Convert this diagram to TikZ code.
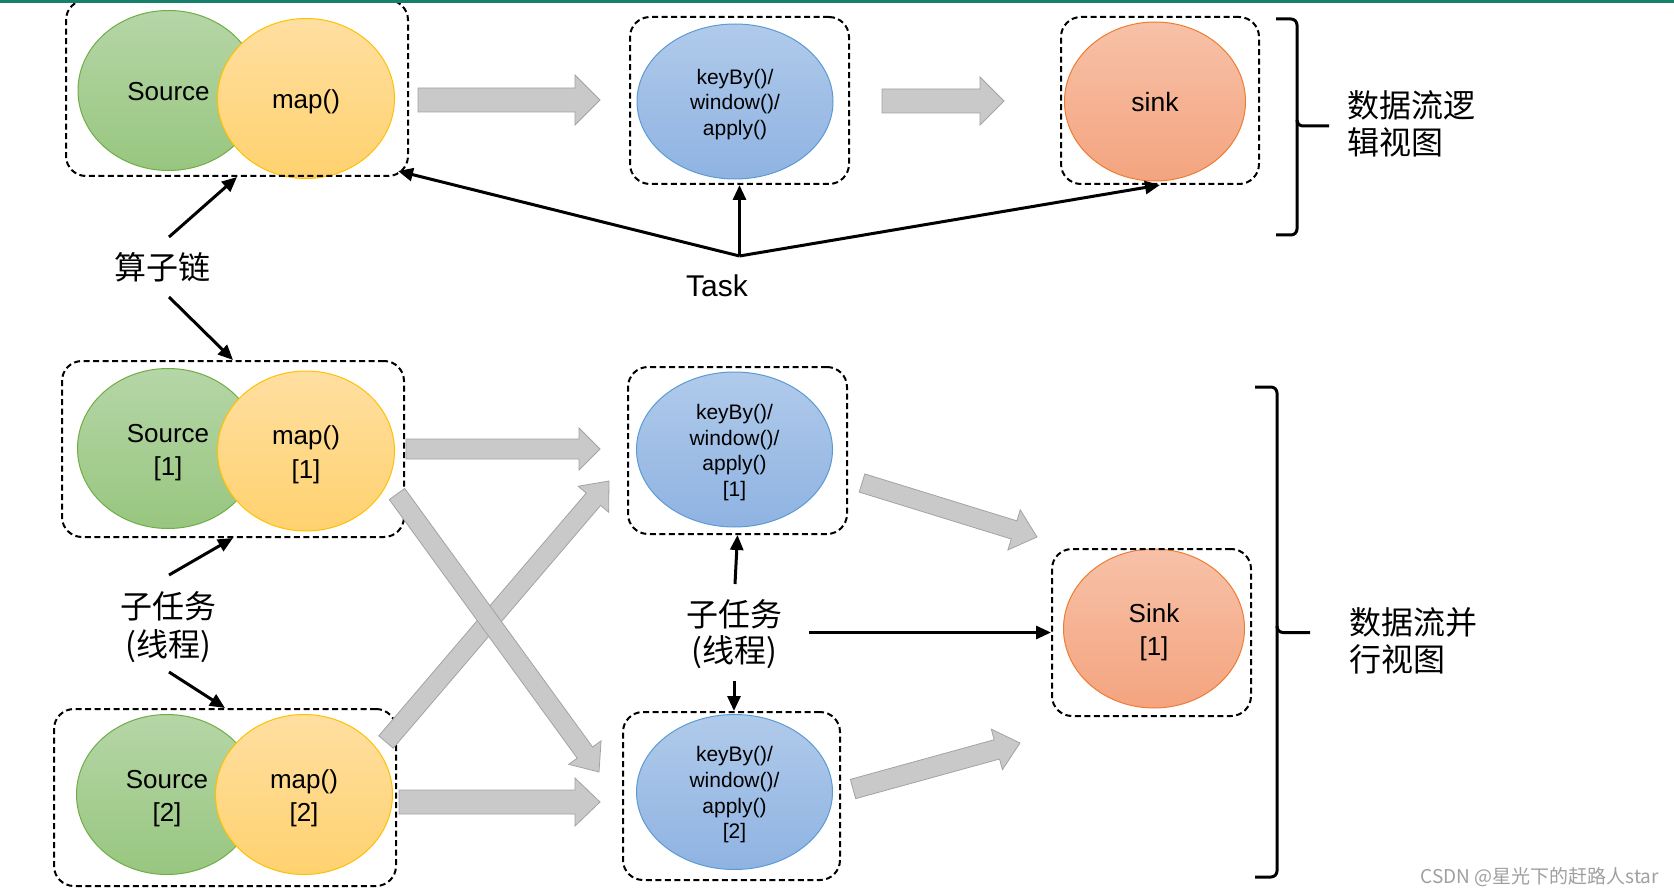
\documentclass[tikz,border=0pt]{standalone}
\usepackage{fontspec}
\setmainfont{Liberation Sans}
\newfontfamily\cjk{Noto Sans CJK SC}
\usetikzlibrary{calc,arrows.meta,shapes.geometric}
\definecolor{teal1}{HTML}{17806A}
\definecolor{gtop}{HTML}{B5D6A7}
\definecolor{gbot}{HTML}{98C67F}
\definecolor{gedge}{HTML}{70AD47}
\definecolor{ytop}{HTML}{FFDFA1}
\definecolor{ybot}{HTML}{FFD26F}
\definecolor{yedge}{HTML}{FFC000}
\definecolor{btop}{HTML}{B0CAEA}
\definecolor{bbot}{HTML}{8FB3E2}
\definecolor{bedge}{HTML}{5B9BD5}
\definecolor{otop}{HTML}{F7C1A8}
\definecolor{obot}{HTML}{F4A47F}
\definecolor{oedge}{HTML}{ED7D31}
\definecolor{afill}{HTML}{C9C9C9}
\definecolor{aedge}{HTML}{A3A3A3}
\definecolor{wm}{HTML}{A0A0A0}
\tikzset{
  opbox/.style 2 args={draw, dash pattern=on 6pt off 3.5pt, line width=2pt,
    rounded corners=20pt, minimum width=#1, minimum height=#2, inner sep=0pt},
  oval/.style 2 args={ellipse, minimum width=#1, minimum height=#2, inner sep=0pt,
    line width=1pt},
  optext/.style={align=center, inner sep=0pt, yshift=-3pt},
  bigtext/.style={optext, font=\fontsize{26}{33.5}\selectfont},
  smalltext/.style={optext, font=\fontsize{21}{25.7}\selectfont},
  srcop/.style={oval={181pt}{160pt}, draw=gedge, top color=gtop, bottom color=gbot},
  mapop/.style={oval={177pt}{160pt}, draw=yedge, top color=ytop, bottom color=ybot},
  keyop/.style={oval={196pt}{155pt}, draw=bedge, top color=btop, bottom color=bbot},
  sinkop/.style={oval={181pt}{159pt}, draw=oedge, top color=otop, bottom color=obot},
  blk/.style={fill=afill, draw=aedge, line width=0.8pt, line join=miter},
  arr/.style={line width=3pt, -{Triangle[length=15pt,width=13pt]}},
  cjklabel/.style={font=\cjk\fontsize{32}{38}\selectfont, align=center, inner sep=0pt},
  bracelbl/.style={font=\cjk\fontsize{32}{37}\selectfont, align=left, inner sep=0pt, anchor=west},
  brace/.style={line width=3pt, rounded corners=6pt},
}
\newcommand\blockarrow[5]{%
  \coordinate (ba-h) at ($(#2)!#5!(#1)$);
  \filldraw[blk] ($(#1)!#3!90:(#2)$) -- ($(ba-h)!#3!-90:(#1)$) -- ($(ba-h)!#4!-90:(#1)$)
    -- (#2) -- ($(ba-h)!#4!90:(#1)$) -- ($(ba-h)!#3!90:(#1)$) -- ($(#1)!#3!-90:(#2)$) -- cycle;}
\begin{document}
\begin{tikzpicture}[x=1pt,y=-1pt]
\useasboundingbox (0,0) rectangle (1674,896);
\fill[white] (0,0) rectangle (1674,896);

% ---------- logical view ----------
\node[srcop, label={[bigtext, yshift=2pt]center:Source}] (src) at (168.5,90.5) {};
\node[mapop, label={[bigtext]center:map()}] (map) at (306,98.5) {};
\node[keyop, label={[smalltext]center:keyBy()/\\window()/\\apply()}] (kb) at (735,101.5) {};
\node[sinkop, label={[bigtext, font=\fontsize{26.5}{33}\selectfont, yshift=2pt]center:sink}] (sink) at (1155,101.5) {};
\node[opbox={342pt}{176pt}] (box1) at (237,88) {};
\node[opbox={219pt}{167pt}] (kbbox) at (739.5,100.5) {};
\node[opbox={198pt}{167pt}] (sinkbox) at (1160,100.5) {};

% ---------- parallel view ----------
\node[srcop, label={[bigtext, yshift=-1pt]center:Source\\{[1]}}] (src1) at (168,448.5) {};
\node[mapop, label={[bigtext, yshift=-1pt]center:map()\\{[1]}}] (map1) at (306,451) {};
\node[keyop, label={[smalltext]center:keyBy()/\\window()/\\apply()\\{[1]}}] (kb1) at (734.5,449.5) {};
\node[sinkop, label={[bigtext, yshift=-1pt]center:Sink\\{[1]}}] (sink1) at (1154,628.5) {};
\node[keyop, label={[smalltext]center:keyBy()/\\window()/\\apply()\\{[2]}}] (kb2) at (734.5,792) {};
\node[srcop, label={[bigtext, yshift=-1pt]center:Source\\{[2]}}] (src2) at (167,794.5) {};
\node[mapop, label={[bigtext, yshift=-1pt]center:map()\\{[2]}}] (map2) at (304,794.5) {};
\node[opbox={342pt}{176pt}] (box2) at (233,449) {};
\node[opbox={219pt}{167pt}] (kb1box) at (737.5,450.5) {};
\node[opbox={199pt}{167pt}] (sink1box) at (1151.5,632.5) {};
\node[opbox={217pt}{168pt}] (kb2box) at (731.5,796) {};
\node[opbox={342pt}{177pt}] (box3) at (225,797.5) {};

% ---------- gray block arrows ----------
\coordinate (a1s) at (418,100);  \coordinate (a1e) at (600,100);
\coordinate (a2s) at (882,101);  \coordinate (a2e) at (1004,101);
\coordinate (a3s) at (406,449);  \coordinate (a3e) at (600,449);
\coordinate (a4s) at (399,802);  \coordinate (a4e) at (600,802);
\coordinate (a5s) at (386,742);  \coordinate (a5e) at (609,481);
\coordinate (a6s) at (397,494);  \coordinate (a6e) at (599,772);
\coordinate (a7s) at (862,483);  \coordinate (a7e) at (1037,537);
\coordinate (a8s) at (853,789);  \coordinate (a8e) at (1020,743);
\blockarrow{a1s}{a1e}{12pt}{25pt}{25pt}
\blockarrow{a2s}{a2e}{12pt}{24pt}{24pt}
\blockarrow{a3s}{a3e}{10pt}{21pt}{21pt}
\blockarrow{a4s}{a4e}{12pt}{24pt}{25pt}
\blockarrow{a5s}{a5e}{9.5pt}{20pt}{24pt}
\blockarrow{a6s}{a6e}{9.5pt}{20pt}{24pt}
\blockarrow{a7s}{a7e}{9.5pt}{21pt}{24pt}
\blockarrow{a8s}{a8e}{10pt}{21pt}{24pt}

% ---------- labels ----------
\node[cjklabel] (chain) at (162.5,267) {算子链};
\node[font=\fontsize{30}{36}\selectfont, inner sep=0pt] (task) at (717,286) {Task};
\node[cjklabel] (sub1) at (168,627.5) {子任务\\(线程)};
\node[cjklabel, font=\cjk\fontsize{32}{36}\selectfont] (sub2) at (734,634.5) {子任务\\(线程)};
\node[bracelbl] (lv) at (1347,124) {数据流逻\\辑视图};
\node[bracelbl] (pv) at (1349,641) {数据流并\\行视图};
\node[font=\cjk\fontsize{19}{22}\selectfont, text=wm, anchor=east, inner sep=0pt] (wmk) at (1659,877) {CSDN @星光下的赶路人star};

% ---------- black arrows ----------
\coordinate (c1) at (169,237);
\coordinate (c2) at (169,297);
\coordinate (s1u) at (169,575);
\coordinate (s1d) at (169,672);
\coordinate (s2u) at (735,584);
\coordinate (s2d) at (734,681);
\coordinate (s2r) at (809,632.5);
\coordinate (J) at (739.5,256);
\draw[arr] (c1) -- (box1.south);
\draw[arr] (c2) -- (box2.north);
\draw[arr] (s1u) -- (box2.south);
\draw[arr] (s1d) -- (box3.north);
\draw[arr] (s2u) -- (kb1box.south);
\draw[arr] (s2d) -- ($(kb2box.north)+(2.5,0)$);
\draw[arr] (s2r) -- (sink1box.west);
\draw[arr] (J) -- ($(box1.south east)+(-11,-6)$);
\draw[arr] (J) -- (kbbox.south);
\draw[arr] (J) -- (sinkbox.south);

% ---------- braces ----------
\draw[brace] (1276,19) -- (1297,19) -- (1297,126) -- (1329,126);
\draw[brace] (1297,120) -- (1297,235) -- (1276,235);
\draw[brace] (1255,387) -- (1277,387) -- (1277,632.5) -- (1310,632.5);
\draw[brace] (1277,626) -- (1277,877) -- (1255,877);

% ---------- top rule ----------
\fill[teal1] (0,0) rectangle (1674,3);
\end{tikzpicture}
\end{document}
